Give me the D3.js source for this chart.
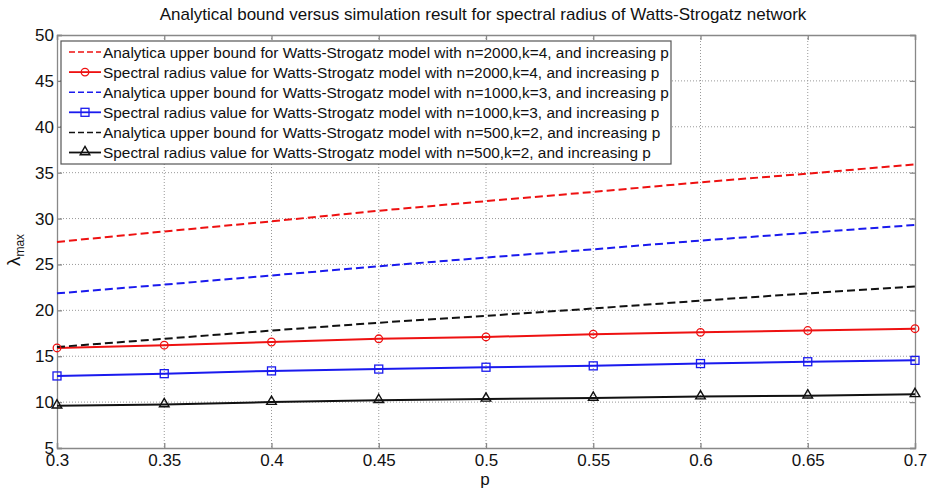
<!DOCTYPE html>
<html>
<head>
<meta charset="utf-8">
<script src="https://cdn.jsdelivr.net/npm/d3@7"></script>
<style>
  body { margin: 0; background: #fff; }
  text { font-family: "Liberation Sans", Arial, sans-serif; fill: #111; }
</style>
</head>
<body>
<svg id="chart" width="931" height="490"></svg>
<script>
// values
var pValues = [0.3, 0.35, 0.4, 0.45, 0.5, 0.55, 0.6, 0.65, 0.7];
var boundN2000 = [27.45, 28.6, 29.7, 30.85, 31.9, 32.9, 33.95, 34.9, 35.9];
var radiusN2000 = [15.9, 16.2, 16.55, 16.9, 17.1, 17.4, 17.6, 17.8, 18.0];
var boundN1000 = [21.85, 22.8, 23.8, 24.8, 25.75, 26.65, 27.6, 28.45, 29.3];
var radiusN1000 = [12.85, 13.1, 13.4, 13.6, 13.8, 13.95, 14.2, 14.4, 14.55];
var boundN500 = [16.0, 16.9, 17.8, 18.65, 19.4, 20.2, 21.05, 21.85, 22.6];
var radiusN500 = [9.6, 9.75, 10.0, 10.2, 10.35, 10.45, 10.6, 10.7, 10.85];
var xTicks = [0.3, 0.35, 0.4, 0.45, 0.5, 0.55, 0.6, 0.65, 0.7];
var yTicks = [5, 10, 15, 20, 25, 30, 35, 40, 45, 50];

var series = [
  {name: "Analytica upper bound for Watts-Strogatz model with n=2000,k=4, and increasing p", values: boundN2000, color: "#ee1111", dash: true},
  {name: "Spectral radius value for Watts-Strogatz model with n=2000,k=4, and increasing p", values: radiusN2000, color: "#ee1111", marker: "circle"},
  {name: "Analytica upper bound for Watts-Strogatz model with n=1000,k=3, and increasing p", values: boundN1000, color: "#1a1aee", dash: true},
  {name: "Spectral radius value for Watts-Strogatz model with n=1000,k=3, and increasing p", values: radiusN1000, color: "#1a1aee", marker: "square"},
  {name: "Analytica upper bound for Watts-Strogatz model with n=500,k=2, and increasing p", values: boundN500, color: "#111111", dash: true},
  {name: "Spectral radius value for Watts-Strogatz model with n=500,k=2, and increasing p", values: radiusN500, color: "#111111", marker: "triangle"}
];

var svg = d3.select("#chart");
var plotL = 57, plotR = 915, plotT = 35, plotB = 448;

var x = d3.scaleLinear().domain([0.3, 0.7]).range([plotL, plotR]);
var y = d3.scaleLinear().domain([5, 50]).range([plotB, plotT]);

// grid
var grid = svg.append("g");
grid.selectAll("line.vx").data(xTicks.slice(1, -1)).enter().append("line")
  .attr("x1", d => x(d)).attr("x2", d => x(d)).attr("y1", plotT).attr("y2", plotB)
  .attr("stroke", "#999").attr("stroke-dasharray", "1,2").attr("stroke-width", 1);
grid.selectAll("line.hy").data(yTicks.slice(1, -1)).enter().append("line")
  .attr("x1", plotL).attr("x2", plotR).attr("y1", d => y(d)).attr("y2", d => y(d))
  .attr("stroke", "#999").attr("stroke-dasharray", "1,2").attr("stroke-width", 1);

// axes (matlab style, ticks inward on all sides)
var xAxis = svg.append("g").attr("transform", "translate(0," + plotB + ")")
  .call(d3.axisBottom(x).tickValues(xTicks).tickSize(-5).tickPadding(6).tickFormat(d3.format("")));
var yAxis = svg.append("g").attr("transform", "translate(" + plotL + ",0)")
  .call(d3.axisLeft(y).tickValues(yTicks).tickSize(-5).tickPadding(3));
var xTop = svg.append("g").attr("transform", "translate(0," + plotT + ")")
  .call(d3.axisTop(x).tickValues(xTicks).tickSize(-5).tickFormat(""));
var yRight = svg.append("g").attr("transform", "translate(" + plotR + ",0)")
  .call(d3.axisRight(y).tickValues(yTicks).tickSize(-5).tickFormat(""));
[xAxis, yAxis, xTop, yRight].forEach(function(a) {
  a.selectAll("path.domain").attr("stroke", "#888").attr("stroke-width", 1.3);
  a.selectAll(".tick line").attr("stroke", "#888").attr("stroke-width", 1.3);
  a.selectAll("text").style("font-family", "Liberation Sans, Arial, sans-serif").style("font-size", "17px").attr("fill", "#111");
});

// lines
var line = d3.line().x((d, i) => x(pValues[i])).y(d => y(d));
series.forEach(function(s) {
  svg.append("path").datum(s.values)
    .attr("d", line).attr("fill", "none").attr("stroke", s.color)
    .attr("stroke-width", 2)
    .attr("stroke-dasharray", s.dash ? "8,4" : null);
});

function drawMarker(g, type, cx, cy, color) {
  if (type === "circle") {
    g.append("circle").attr("cx", cx).attr("cy", cy).attr("r", 3.8)
      .attr("fill", "none").attr("stroke", color).attr("stroke-width", 1.3);
  } else if (type === "square") {
    g.append("rect").attr("x", cx - 4).attr("y", cy - 4).attr("width", 8).attr("height", 8)
      .attr("fill", "none").attr("stroke", color).attr("stroke-width", 1.3);
  } else if (type === "triangle") {
    g.append("path").attr("d", d3.symbol(d3.symbolTriangle, 40)())
      .attr("transform", "translate(" + cx + "," + (cy - 0.5) + ")")
      .attr("fill", "none").attr("stroke", color).attr("stroke-width", 1.4);
  }
}

series.filter(s => s.marker).forEach(function(s) {
  var g = svg.append("g");
  s.values.forEach(function(v, i) { drawMarker(g, s.marker, x(pValues[i]), y(v), s.color); });
});

// legend
var legend = svg.append("g");
legend.append("rect").attr("x", 61).attr("y", 41).attr("width", 610).attr("height", 123)
  .attr("fill", "#fff").attr("stroke", "#555").attr("stroke-width", 1.2);
series.forEach(function(s, i) {
  var ly = 52 + i * 20.1;
  legend.append("line").attr("x1", 69).attr("x2", 101).attr("y1", ly).attr("y2", ly)
    .attr("stroke", s.color).attr("stroke-width", s.dash ? 1.5 : 1.8)
    .attr("stroke-dasharray", s.dash ? "6,3" : null);
  if (s.marker) drawMarker(legend, s.marker, 85, ly, s.color);
  legend.append("text").attr("x", 103).attr("y", ly + 5.5)
    .style("font-size", "15.4px").text(s.name);
});

// title and labels
svg.append("text").attr("x", 483).attr("y", 20).attr("text-anchor", "middle")
  .style("font-size", "17px").text("Analytical bound versus simulation result for spectral radius of Watts-Strogatz network");
svg.append("text").attr("x", 485).attr("y", 485).attr("text-anchor", "middle")
  .style("font-size", "17px").text("p");
var yl = svg.append("text").attr("transform", "translate(20,250) rotate(-90)")
  .attr("text-anchor", "middle").style("font-size", "19px");
yl.append("tspan").text("λ");
yl.append("tspan").attr("dy", 4).style("font-size", "12px").text("max");
</script>
</body>
</html>
